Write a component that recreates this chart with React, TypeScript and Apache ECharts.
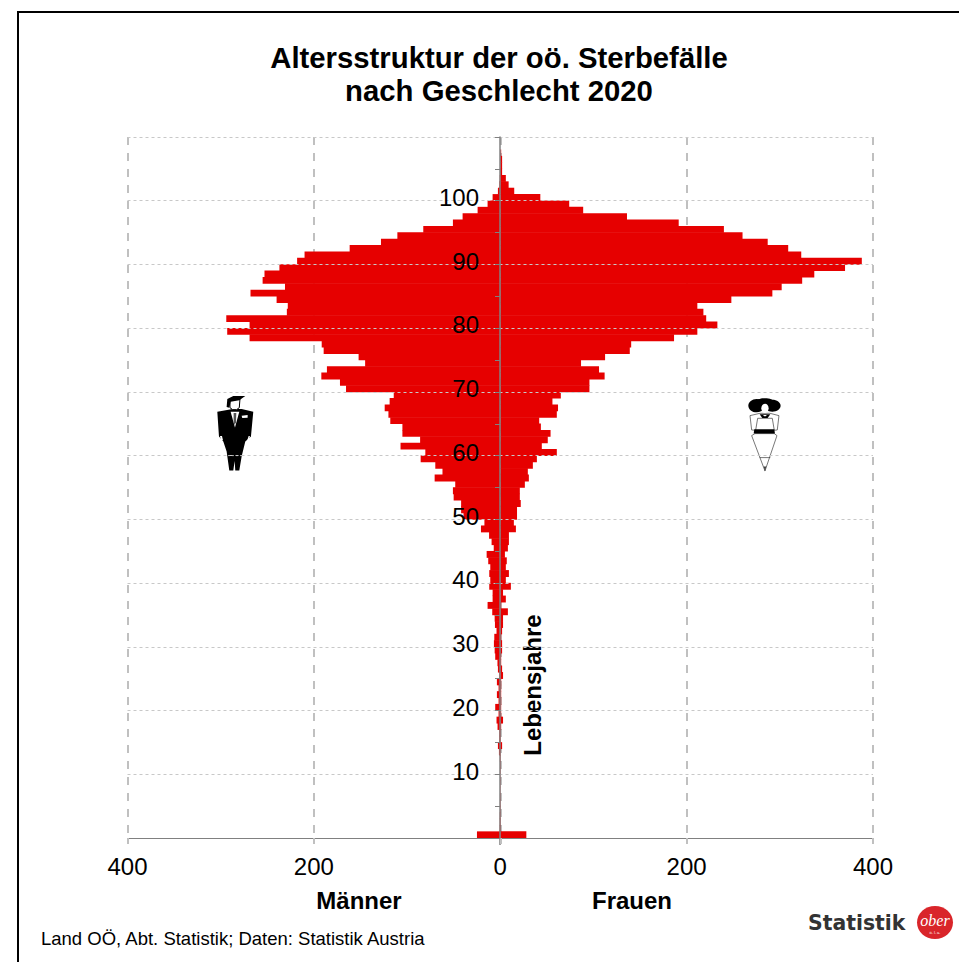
import React, { useEffect, useRef } from "react";
import * as echarts from "echarts";

// Age 0 .. 109
const ages: string[] = Array.from({ length: 110 }, (_, i) => String(i));
const menAbs: number[] = [
  25, 0.6, 0.5, 0.5, 0.3, 0.3, 0.3, 0.2, 0.2, 0.2, 0.3, 0.3, 0.4, 1.4, 2.5, 1, 1, 2.9, 4, 1.8,
  5.4, 1.8, 3.6, 1.8, 3.6, 1, 2.5, 3, 5.4, 6, 6.8, 6.4, 4, 5.7, 6, 8.6, 13.6, 8.2, 8.2, 11.8,
  10.7, 11.8, 10.7, 12.9, 14.6, 7, 9.3, 12, 20.7, 17, 39.4, 42, 42, 50, 50.8, 48.3, 70.4, 62, 69.7, 85.4,
  80.4, 107, 86, 105, 105, 118, 120, 124, 118.7, 114.3, 165.5, 172, 192, 186, 145, 152, 189.5, 191.6, 269, 293,
  269, 294, 229, 228, 240, 268, 231, 255, 253, 237, 218, 210, 161.6, 128, 110.4, 82.6, 50.8, 40.4, 24.3, 13.6,
  8.2, 2.5, 1, 0.5, 0.2, 0, 0, 0, 0, 0,
];
const women: number[] = [
  28, 0.6, 0.5, 0.4, 0.3, 0.3, 0.2, 0.2, 0.2, 0.2, 0.3, 0.3, 0.4, 0.5, 2, 0.5, 0.5, 1, 3, 1,
  1, 1, 1, 1, 1, 3, 2, 1, 1, 2, 2, 1, 2, 3, 3, 8.2, 1, 6, 3, 11.4,
  6, 9.3, 6, 7, 5, 8.2, 9.3, 9.3, 16.8, 14.6, 18, 18, 22, 21, 21, 26.4, 30.7, 29.6, 35, 39.3,
  60.7, 44.6, 51, 54, 43.6, 41.8, 60.7, 62, 56, 65, 95.7, 95.7, 112, 106, 86.7, 112.5, 139, 140.5, 186.5, 211.5,
  233, 221, 218, 211.5, 248, 292, 302, 324, 337, 370, 388, 323, 309, 287, 260, 240, 191.5, 136, 89, 74,
  43, 15, 9, 6, 2, 2, 2, 1, 0, 0,
];
const men: number[] = menAbs.map((v) => -v);
const xTicks = { min: -400, max: 400, step: 200 };
const titleText = "Altersstruktur der oö. Sterbefälle\nnach Geschlecht 2020";
const sourceText = "Land OÖ, Abt. Statistik; Daten: Statistik Austria";
const RED = "#e60000";
const FONT = "Liberation Sans";

function poly(points: number[][], fill: string, stroke?: string, lw = 0) {
  return { type: "polygon", shape: { points }, style: { fill, stroke: stroke ?? "none", lineWidth: lw }, silent: true };
}

const manIcon = {
  type: "group", x: 200, y: 385, scaleX: 1 / 3, scaleY: 1 / 3, silent: true,
  children: [
    poly([[52, 80], [98, 72], [125, 72], [160, 80], [153, 155], [136, 170], [125, 215], [118, 257], [106, 257], [104, 228], [100, 257], [88, 257], [80, 200], [70, 170], [57, 155]], "#000"),
    poly([[92, 80], [118, 80], [105, 128]], "#fff"),
    poly([[101, 84], [109, 84], [108, 112], [104, 120], [101, 112]], "#555"),
    poly([[125, 92], [143, 90], [143, 98], [127, 99]], "#fff"),
    poly([[90, 45], [120, 42], [118, 68], [110, 74], [98, 74], [90, 68]], "#fff", "#000", 3),
    poly([[80, 66], [82, 42], [100, 33], [136, 33], [118, 46], [92, 50], [88, 68]], "#000"),
    poly([[60, 153], [66, 153], [69, 166], [63, 166]], "#fff"),
    poly([[146, 153], [150, 153], [147, 166], [142, 166]], "#fff"),
    { type: "line", shape: { x1: 84, y1: 212, x2: 128, y2: 212 }, style: { stroke: "#fff", lineWidth: 2, lineDash: [6, 6] }, silent: true },
  ],
};

const womanIcon = {
  type: "group", x: 735, y: 385, scaleX: 1 / 3, scaleY: 1 / 3, silent: true,
  children: [
    poly([[45, 92], [75, 85], [105, 85], [132, 92], [127, 135], [118, 136], [112, 100], [68, 100], [62, 136], [50, 135]], "#fff", "#333", 2),
    poly([[60, 146], [118, 146], [126, 152], [90, 258], [50, 152]], "#fff", "#333", 2),
    poly([[58, 133], [118, 133], [120, 146], [56, 146]], "#000"),
    { type: "line", shape: { x1: 74, y1: 218, x2: 106, y2: 218 }, style: { stroke: "#333", lineWidth: 2 }, silent: true },
    poly([[86, 245], [94, 245], [90, 260]], "#444"),
    { type: "ellipse", shape: { cx: 65, cy: 62, rx: 25, ry: 20 }, style: { fill: "#000" }, silent: true },
    { type: "ellipse", shape: { cx: 112, cy: 62, rx: 25, ry: 18 }, style: { fill: "#000" }, silent: true },
    { type: "ellipse", shape: { cx: 90, cy: 50, rx: 26, ry: 10 }, style: { fill: "#000" }, silent: true },
    { type: "ellipse", shape: { cx: 90, cy: 70, rx: 11, ry: 14 }, style: { fill: "#fff" }, silent: true },
    poly([[74, 88], [106, 88], [98, 99], [82, 99]], "#000"),
    poly([[84, 90], [96, 90], [92, 94], [88, 94]], "#fff"),
  ],
};

const logo = [
  { type: "text", silent: true, style: { text: "Statistik", x: 808, y: 923, font: "bold 20.4px 'DejaVu Sans'", fill: "#333", textAlign: "left", textVerticalAlign: "middle" } },
  { type: "ellipse", shape: { cx: 935, cy: 922.5, rx: 18, ry: 16.5 }, style: { fill: "#d9252a" }, silent: true },
  { type: "text", silent: true, style: { text: "ober", x: 935, y: 920, font: "italic 16px 'Liberation Serif'", fill: "#fff", textAlign: "center", textVerticalAlign: "middle" } },
  { type: "text", silent: true, style: { text: "ö. l. a.", x: 935, y: 932, font: "4px 'Liberation Sans'", fill: "#fff", textAlign: "center", textVerticalAlign: "middle" } },
];

export default function App() {
  const ref = useRef<HTMLDivElement>(null);
  useEffect(() => {
    document.body.style.margin = "0";
    const chart = echarts.init(ref.current!, undefined, { renderer: "svg" });
    const barItem = { color: RED };
    chart.setOption({
      animation: false,
      backgroundColor: "#fff",
      textStyle: { fontFamily: FONT },
      title: {
        text: titleText,
        left: 494,
        top: 36,
        textAlign: "center",
        textStyle: { fontFamily: FONT, fontWeight: "bold", fontSize: 29.3, lineHeight: 33, color: "#000" },
      },
      grid: { left: 127.5, right: 86, top: 137, height: 701, containLabel: false },
      xAxis: {
        type: "value",
        min: xTicks.min,
        max: xTicks.max,
        interval: xTicks.step,
        axisLine: { show: true, lineStyle: { color: "#808080", width: 1 } },
        axisTick: { show: true, length: 6, lineStyle: { color: "#c0c0c0", width: 2 } },
        axisLabel: { color: "#000", fontSize: 24, margin: 16, fontFamily: FONT, formatter: (v: number) => String(Math.abs(v)) },
        splitLine: { show: true, lineStyle: { color: "#c0c0c0", width: 2, type: [8, 8] } },
      },
      yAxis: {
        type: "category",
        data: ages,
        z: 6,
        offset: -372.5,
        axisLine: { show: true, onZero: false, lineStyle: { color: "#808080", width: 1.5 } },
        axisTick: { show: true, length: 5, interval: (i: number) => i % 5 === 0, lineStyle: { color: "#808080" } },
        axisLabel: { color: "#000", fontSize: 24, margin: 21, padding: [2, 0, 0, 0], fontFamily: FONT, interval: (i: number) => i % 10 === 0 && i > 0 },
        splitLine: { show: true, interval: (i: number) => i % 10 === 0 && i > 0, lineStyle: { color: "#c8c8c8", width: 1, type: [3, 3] } },
      },
      series: [
        { name: "Männer", type: "bar", stack: "a", data: men, barWidth: 6.9, itemStyle: barItem, silent: true },
        { name: "Frauen", type: "bar", stack: "a", data: women, barWidth: 6.9, itemStyle: barItem, silent: true },
      ],
      graphic: [
        { type: "rect", shape: { x: 18, y: 12, width: 1000, height: 1000 }, style: { fill: "none", stroke: "#000", lineWidth: 2 }, silent: true, z: -10 },
        { type: "line", shape: { x1: 500, y1: 838, x2: 500, y2: 845 }, style: { stroke: "#808080", lineWidth: 1.5 }, silent: true },
        { type: "text", silent: true, style: { text: "Männer", x: 359, y: 900, font: `bold 24px '${FONT}'`, fill: "#000", textAlign: "center", textVerticalAlign: "middle" } },
        { type: "text", silent: true, style: { text: "Frauen", x: 632, y: 900, font: `bold 24px '${FONT}'`, fill: "#000", textAlign: "center", textVerticalAlign: "middle" } },
        { type: "text", x: 532.5, y: 685, rotation: Math.PI / 2, silent: true, style: { text: "Lebensjahre", x: 0, y: 0, font: `bold 24px '${FONT}'`, fill: "#000", textAlign: "center", textVerticalAlign: "middle" } },
        { type: "text", silent: true, style: { text: sourceText, x: 41, y: 938, font: `18.5px '${FONT}'`, fill: "#000", textAlign: "left", textVerticalAlign: "middle" } },
        manIcon,
        womanIcon,
        ...logo,
      ],
    });
    return () => chart.dispose();
  }, []);
  return <div ref={ref} style={{ position: "absolute", left: 0, top: 0, width: 959, height: 962 }} />;
}
